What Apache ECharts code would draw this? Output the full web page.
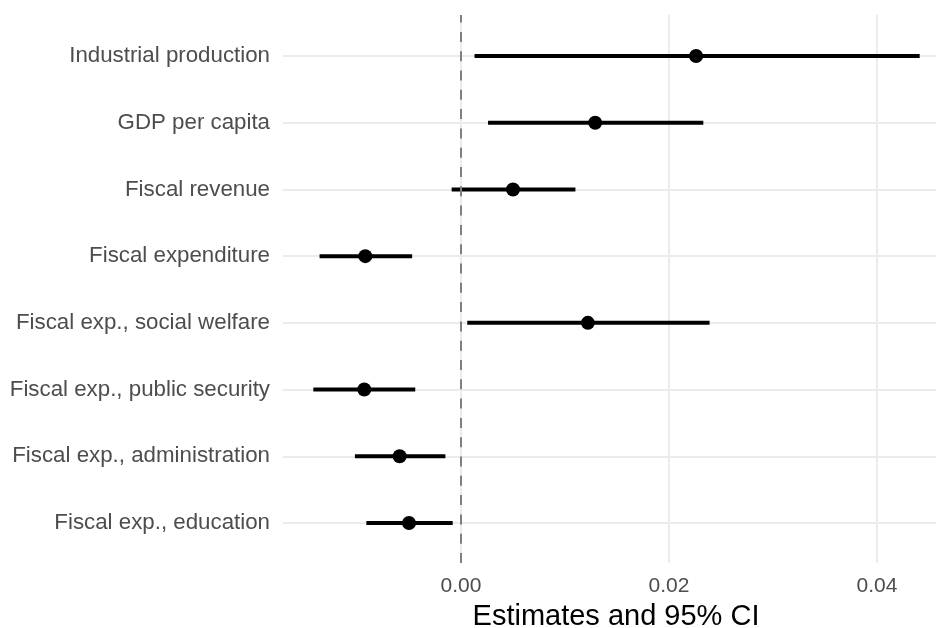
<!DOCTYPE html>
<html>
<head>
<meta charset="utf-8">
<script src="https://cdn.jsdelivr.net/npm/echarts@6/dist/echarts.min.js"></script>
<style>
html,body{margin:0;padding:0;background:#fff;}
#chart{width:936px;height:628px;}
</style>
</head>
<body>
<div id="chart"></div>
<script>
// ---- data (top to bottom) ----
var categories = [
  "Industrial production",
  "GDP per capita",
  "Fiscal revenue",
  "Fiscal expenditure",
  "Fiscal exp., social welfare",
  "Fiscal exp., public security",
  "Fiscal exp., administration",
  "Fiscal exp., education"
];
var estimates = [0.0226, 0.0129, 0.0050, -0.0092, 0.0122, -0.0093, -0.0059, -0.0050];
var lower     = [0.0013, 0.0026, -0.0009, -0.0136, 0.0006, -0.0142, -0.0102, -0.0091];
var upper     = [0.0441, 0.0233, 0.0110, -0.0047, 0.0239, -0.0044, -0.0015, -0.0008];
var xTicks = [0, 0.02, 0.04];
var xMin = -0.017115, xMax = 0.04567;
var xTitle = "Estimates and 95% CI";

var chart = echarts.init(document.getElementById('chart'), null, {renderer: 'canvas'});

var ciData = categories.map(function (c, i) { return [lower[i], upper[i], c]; });
var ptData = categories.map(function (c, i) { return [estimates[i], c]; });

var option = {
  backgroundColor: '#ffffff',
  animation: false,
  grid: [
    {left: 283, right: 0, top: 15, bottom: 65, containLabel: false, outerBoundsMode: 'none'},
    {left: 283, right: 0, top: 56, bottom: 105, containLabel: false, outerBoundsMode: 'none'}
  ],
  xAxis: [
    {
      gridIndex: 0, type: 'value', min: xMin, max: xMax,
      axisLine: {show: false},
      axisTick: {show: false, customValues: xTicks},
      splitLine: {show: true, lineStyle: {color: '#ebebeb', width: 2}},
      axisLabel: {
        customValues: xTicks,
        color: '#4d4d4d', fontSize: 21, fontFamily: 'Liberation Sans, Arial, sans-serif',
        margin: 13,
        formatter: function (v) { return v.toFixed(2); }
      },
      name: xTitle, nameLocation: 'middle', nameGap: 39,
      nameTextStyle: {color: '#000', fontSize: 29, padding: [0, 0, 0, 13],
        fontFamily: 'Liberation Sans, Arial, sans-serif'}
    },
    {
      gridIndex: 1, type: 'value', min: xMin, max: xMax, show: false,
      splitLine: {show: false}
    }
  ],
  yAxis: [
    {gridIndex: 0, type: 'value', min: 0, max: 1, show: false, splitLine: {show: false}},
    {
      gridIndex: 1, type: 'category', data: categories, inverse: true, boundaryGap: false,
      axisLine: {show: false}, axisTick: {show: false},
      splitLine: {show: true, lineStyle: {color: '#ebebeb', width: 2}},
      axisLabel: {
        interval: 0, color: '#4d4d4d', fontSize: 22.3, margin: 13,
        fontFamily: 'Liberation Sans, Arial, sans-serif'
      }
    }
  ],
  series: [
    {
      type: 'line', xAxisIndex: 0, yAxisIndex: 0, data: [], silent: true,
      markLine: {
        silent: true, symbol: 'none', label: {show: false},
        lineStyle: {color: '#7f7f7f', width: 2, type: [10, 9.3]},
        data: [{xAxis: 0}]
      }
    },
    {
      type: 'custom', xAxisIndex: 1, yAxisIndex: 1, data: ciData,
      encode: {x: [0, 1], y: 2},
      renderItem: function (params, api) {
        var p1 = api.coord([api.value(0), api.value(2)]);
        var p2 = api.coord([api.value(1), api.value(2)]);
        return {
          type: 'line',
          shape: {x1: p1[0], y1: p1[1], x2: p2[0], y2: p2[1]},
          style: {stroke: '#000', lineWidth: 4}
        };
      }
    },
    {
      type: 'scatter', xAxisIndex: 1, yAxisIndex: 1, data: ptData,
      symbol: 'circle', symbolSize: 14,
      itemStyle: {color: '#000', opacity: 1}
    }
  ]
};
chart.setOption(option);
</script>
</body>
</html>
